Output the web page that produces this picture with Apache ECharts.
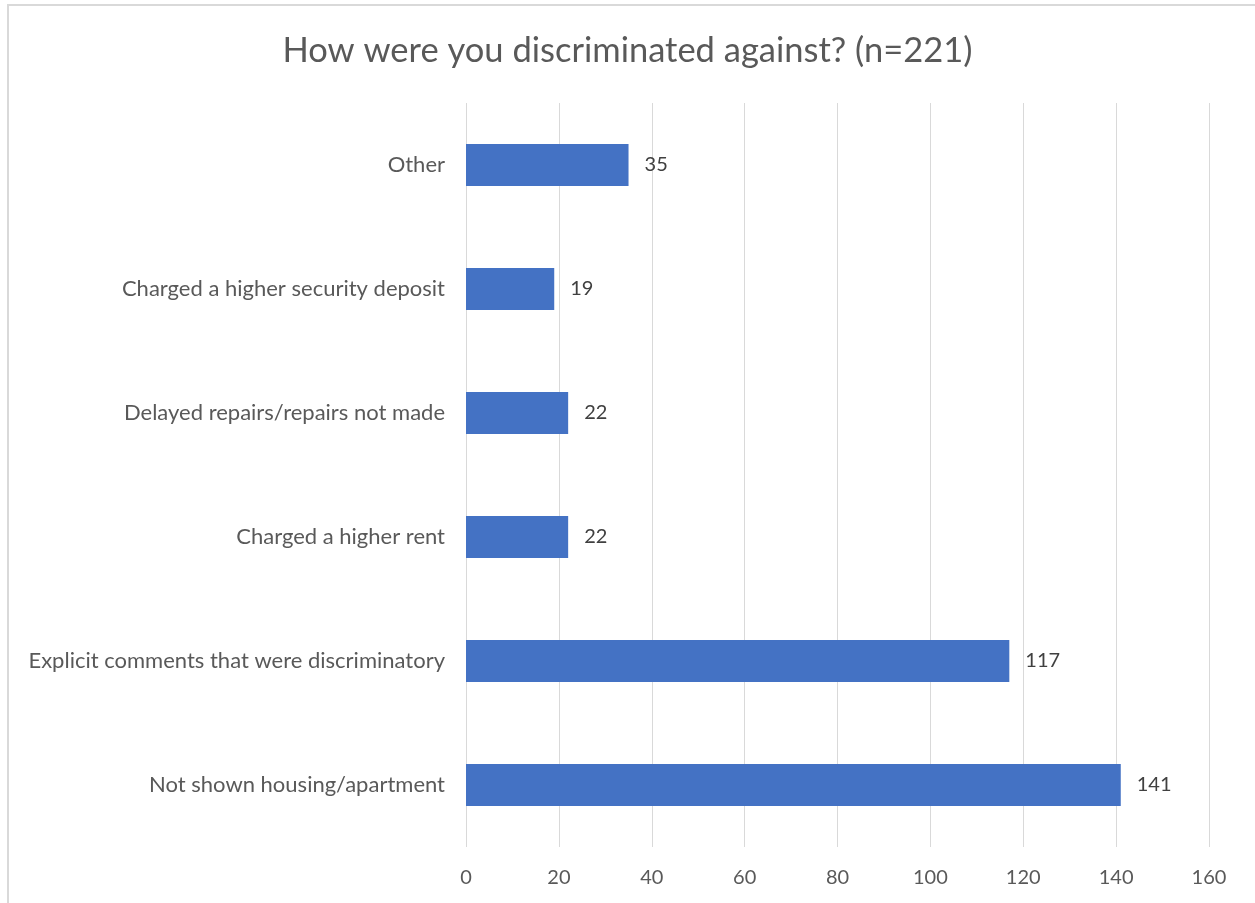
<!DOCTYPE html>
<html>
<head>
<meta charset="utf-8">
<script src="https://cdn.jsdelivr.net/npm/echarts@6/dist/echarts.min.js"></script>
<style>
  html, body { margin: 0; padding: 0; background: #fff; }
  #chart { width: 1255px; height: 903px; }
</style>
</head>
<body>
<div id="chart"></div>
<script>
// Survey responses, listed bottom-to-top as drawn on the category axis
const categories = [
  'Not shown housing/apartment',
  'Explicit comments that were discriminatory',
  'Charged a higher rent',
  'Delayed repairs/repairs not made',
  'Charged a higher security deposit',
  'Other'
];
const counts = [141, 117, 22, 22, 19, 35];
const titleText = 'How were you discriminated against? (n=221)';

const FONT = 'Lato, "Liberation Sans", sans-serif';

const chart = echarts.init(document.getElementById('chart'));
chart.setOption({
  backgroundColor: '#ffffff',
  animation: false,
  title: {
    text: titleText,
    left: 'center',
    top: 28,
    textStyle: { fontFamily: FONT, fontSize: 34.5, fontWeight: 'normal', color: '#595959' }
  },
  graphic: [{
    type: 'rect',
    shape: { x: 8, y: 5, width: 1260, height: 920 },
    style: { fill: 'none', stroke: '#d9d9d9', lineWidth: 2 },
    silent: true
  }],
  grid: { left: 466, right: 46, top: 103, bottom: 56, containLabel: false },
  xAxis: {
    type: 'value',
    min: 0,
    max: 160,
    interval: 20,
    axisLine: { show: false },
    axisTick: { show: false },
    splitLine: { lineStyle: { color: '#d9d9d9', width: 1 } },
    axisLabel: { fontFamily: FONT, fontSize: 20, color: '#595959', margin: 21 }
  },
  yAxis: {
    type: 'category',
    data: categories,
    axisLine: { show: false },
    axisTick: { show: false },
    axisLabel: { fontFamily: FONT, fontSize: 22, color: '#595959', margin: 21 }
  },
  series: [{
    type: 'bar',
    data: counts,
    barWidth: 42,
    itemStyle: { color: '#4472C4' },
    label: {
      show: true,
      position: 'right',
      distance: 16,
      fontFamily: FONT,
      fontSize: 20,
      color: '#404040'
    }
  }]
});
</script>
</body>
</html>
